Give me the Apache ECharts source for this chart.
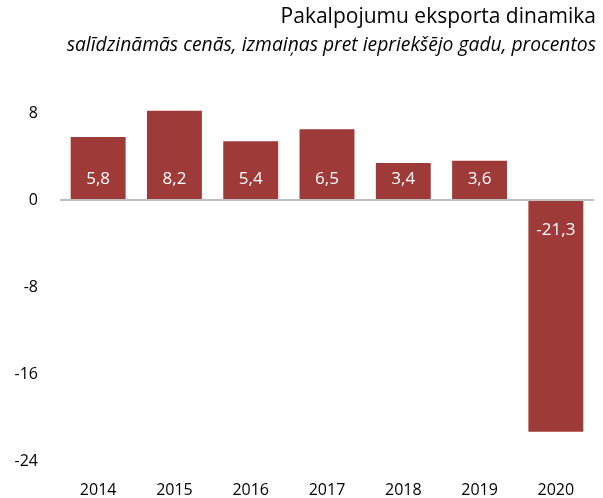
<!DOCTYPE html>
<html>
<head>
<meta charset="utf-8">
<script src="https://cdn.jsdelivr.net/npm/echarts@6/dist/echarts.min.js"></script>
<style>
  html, body { margin: 0; padding: 0; background: #fff; }
  #chart { width: 603px; height: 498px; }
</style>
</head>
<body>
<div id="chart"></div>
<script>
var years = ['2014', '2015', '2016', '2017', '2018', '2019', '2020']
var exportChange = [5.8, 8.2, 5.4, 6.5, 3.4, 3.6, -21.3]
var titleText = 'Pakalpojumu eksporta dinamika'
var subtitleText = 'salīdzināmās cenās, izmaiņas pret iepriekšējo gadu, procentos'

var fontName = 'Open Sans'
var barColor = '#9e3b39'

var chart = echarts.init(document.getElementById('chart'))

var barData = exportChange.map(function (v) {
  return {
    value: v,
    label: v < 0
      ? { position: 'insideTop', distance: 22 }
      : { position: 'insideBottom', distance: 12 }
  }
})

chart.setOption({
  animation: false,
  textStyle: { fontFamily: fontName },
  title: [{
    text: titleText,
    right: 7,
    top: 7,
    padding: 0,
    textStyle: {
      fontFamily: fontName,
      fontWeight: 'normal',
      fontSize: 21,
      color: '#000'
    }
  }, {
    text: subtitleText,
    right: 7,
    top: 36,
    padding: 0,
    textStyle: {
      fontFamily: fontName,
      fontWeight: 'normal',
      fontStyle: 'italic',
      fontSize: 19.3,
      color: '#000'
    }
  }],
  grid: {
    left: 60,
    right: 9,
    top: 113,
    bottom: 37,
    containLabel: false
  },
  xAxis: {
    type: 'category',
    data: years,
    axisLine: { show: false },
    axisTick: { show: false },
    axisLabel: {
      color: '#000',
      fontSize: 16,
      margin: 21
    }
  },
  yAxis: {
    type: 'value',
    min: -24,
    max: 8,
    interval: 8,
    axisLine: { show: false },
    axisTick: { show: false },
    splitLine: { show: false },
    axisLabel: {
      color: '#000',
      fontSize: 16,
      margin: 22
    }
  },
  series: [{
    type: 'bar',
    data: barData,
    barWidth: '72%',
    clip: false,
    itemStyle: { color: barColor },
    label: {
      show: true,
      color: '#fff',
      fontSize: 17,
      formatter: function (p) {
        return String(p.value).replace('.', ',')
      }
    },
    markLine: {
      silent: true,
      symbol: 'none',
      label: { show: false },
      lineStyle: { color: '#bfbfbf', type: 'solid', width: 2 },
      data: [{ yAxis: 0 }]
    }
  }]
})
</script>
</body>
</html>
